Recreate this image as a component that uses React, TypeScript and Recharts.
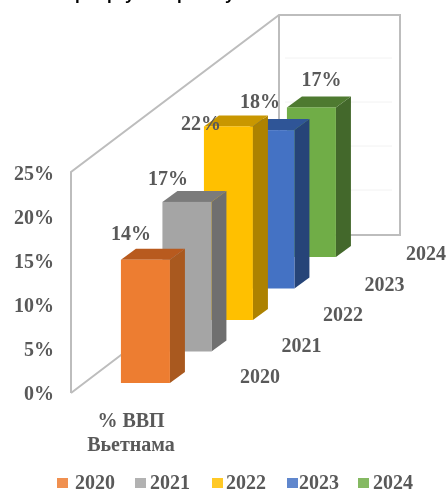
import { BarChart, Bar, XAxis, YAxis, LabelList } from "recharts";

const years = ["2020", "2021", "2022", "2023", "2024"];
const shares = [14, 17, 22, 18, 17];
const yTicks = [0, 5, 10, 15, 20, 25];

// front, side, top
const barColors = [
  ["#ED7D31", "#A9591F", "#B85A1E"],
  ["#A5A5A5", "#6F6F6F", "#7B7B7B"],
  ["#FFC000", "#AD8200", "#C99700"],
  ["#4472C4", "#264478", "#2F5597"],
  ["#70AD47", "#43682B", "#4E7A30"],
];
const labelNudge = [
  [-14.5, -27],
  [-19, -24],
  [-27.5, -3],
  [-10, -29],
  [10, -28],
];
const legendSquareX = [57, 135, 212, 287, 358];
const legendTextX = [75, 150, 226, 299, 373];

// drawn back to front, the axis is reversed so 2020 still ends up on the left
const rows = years.map((year, i) => ({ year, share: shares[i] })).reverse();

const BAR_WIDTH = 49;
const DEPTH_X = 15;
const DEPTH_Y = 11;
const STEP_Y = 31.5;
const lift = (i: number) => 10 + i * STEP_Y;
const serif = "'Liberation Serif', serif";
const textColor = "#595959";

function Bar3D(props: any) {
  const { x: bandX, y, width: bandW, height, payload } = props;
  const i = years.indexOf(payload.year);
  const [front, side, top] = barColors[i];
  const x = bandX + bandW / 2 - BAR_WIDTH / 2;
  const t = y - lift(i);
  const b = t + height;
  const r = x + BAR_WIDTH;
  return (
    <g>
      <polygon points={`${r},${t} ${r + DEPTH_X},${t - DEPTH_Y} ${r + DEPTH_X},${b - DEPTH_Y} ${r},${b}`} fill={side} />
      <polygon points={`${x},${t} ${r},${t} ${r + DEPTH_X},${t - DEPTH_Y} ${x + DEPTH_X},${t - DEPTH_Y}`} fill={top} />
      <rect x={x} y={t} width={BAR_WIDTH} height={height} fill={front} />
    </g>
  );
}

function ShareLabel(props: any) {
  const { x, y, width, value, index } = props;
  const i = years.length - 1 - index;
  return (
    <text
      x={x + width / 2 + labelNudge[i][0]}
      y={y - lift(i) + labelNudge[i][1] + 7}
      textAnchor="middle"
      fontFamily={serif}
      fontWeight={700}
      fontSize={20}
      fill={textColor}
    >
      {value}%
    </text>
  );
}

function YearTick(props: any) {
  const { x, y, payload } = props;
  const i = years.indexOf(payload.value);
  return (
    <text
      x={x + 114.5}
      y={y - 18 - i * 30.8}
      textAnchor="middle"
      fontFamily={serif}
      fontWeight={700}
      fontSize={20}
      fill={textColor}
    >
      {payload.value}
    </text>
  );
}

function Frame() {
  return (
    <g fill="none" stroke="#BDBDBD" strokeWidth={2}>
      <polyline points="71,393 71,172 279,15 400,15 400,235 279,235 71,393" />
      <line x1={279} y1={15} x2={279} y2={235} />
      {[58, 102, 146, 190].map((y) => (
        <line key={y} x1={285} y1={y} x2={392} y2={y} stroke="#F2F2F2" strokeWidth={1} />
      ))}
    </g>
  );
}

export default function App() {
  return (
    <div style={{ position: "absolute", left: 0, top: 0, width: 447, height: 491, overflow: "hidden", filter: "blur(0.5px)" }}>
      <BarChart
        width={447}
        height={491}
        data={rows}
        barSize={49}
        margin={{ top: 173, right: 47, left: 11, bottom: 68 }}
      >
        <Frame />
        <XAxis
          dataKey="year"
          reversed
          height={30}
          axisLine={false}
          tickLine={false}
          interval={0}
          padding={{ left: 53.75, right: 67.75 }}
          tick={<YearTick />}
        />
        <YAxis
          width={60}
          domain={[0, 25]}
          ticks={yTicks}
          axisLine={false}
          tickLine={false}
          tickMargin={11}
          tickFormatter={(v) => `${v}%`}
          tick={{ fill: textColor, fontSize: 20, fontFamily: serif, fontWeight: 700 }}
        />
        <Bar dataKey="share" shape={<Bar3D />} isAnimationActive={false}>
          <LabelList dataKey="share" content={<ShareLabel />} />
        </Bar>
        <text fontFamily={serif} fontWeight={700} fontSize={20} fill={textColor} textAnchor="middle">
          <tspan x={131} y={427}>% ВВП</tspan>
          <tspan x={131} y={451}>Вьетнама</tspan>
        </text>
        <text x="75 107 125 177 225" y={0} fontFamily="'Liberation Sans', sans-serif" fontWeight={700} fontSize={17} fill="#000">
          рруру
        </text>
        {years.map((year, i) => (
          <g key={year}>
            <rect x={legendSquareX[i]} y={478} width={11} height={10} fill={barColors[i][0]} opacity={0.85} />
            <text x={legendTextX[i]} y={489} fontFamily={serif} fontWeight={700} fontSize={20} fill={textColor}>
              {year}
            </text>
          </g>
        ))}
      </BarChart>
    </div>
  );
}
